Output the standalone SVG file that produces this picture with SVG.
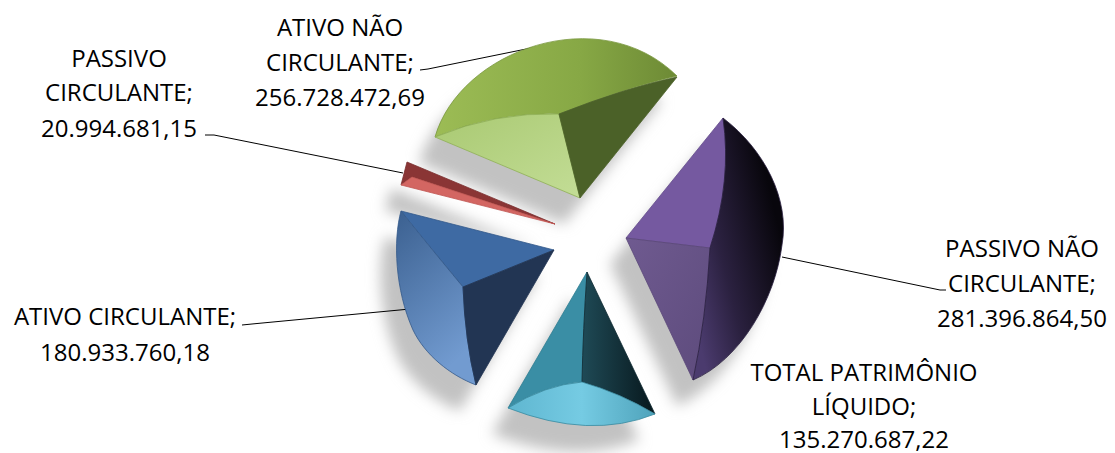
<svg xmlns="http://www.w3.org/2000/svg" width="1115" height="453" viewBox="0 0 1115 453">
<defs>
<filter id="blur" x="-30%" y="-30%" width="160%" height="160%"><feGaussianBlur stdDeviation="7"/></filter>
<linearGradient id="gTop" x1="0" y1="0" x2="1" y2="0"><stop offset="0" stop-color="#9cbc55"/><stop offset="0.6" stop-color="#87a845"/><stop offset="1" stop-color="#6d8a35"/></linearGradient>
<linearGradient id="gLeft" x1="0" y1="0" x2="1" y2="1"><stop offset="0" stop-color="#a9c972"/><stop offset="1" stop-color="#c3dd96"/></linearGradient>
<linearGradient id="bLeft" x1="0" y1="0" x2="0.4" y2="1"><stop offset="0" stop-color="#3b6090"/><stop offset="1" stop-color="#729bd0"/></linearGradient>
<linearGradient id="tRight" x1="1" y1="0.5" x2="0" y2="0.5"><stop offset="0" stop-color="#07171c"/><stop offset="1" stop-color="#1f4a56"/></linearGradient>
<linearGradient id="tBottom" x1="0" y1="0" x2="1" y2="0"><stop offset="0" stop-color="#5fb6d0"/><stop offset="0.5" stop-color="#75cbe3"/><stop offset="1" stop-color="#4fa3bb"/></linearGradient>
<linearGradient id="pRight" x1="0.9" y1="0.35" x2="0.1" y2="0.9"><stop offset="0" stop-color="#08060c"/><stop offset="0.6" stop-color="#2b2140"/><stop offset="1" stop-color="#4b3b6e"/></linearGradient>
<linearGradient id="pLow" x1="0" y1="0" x2="1" y2="1"><stop offset="0" stop-color="#6f5a90"/><stop offset="1" stop-color="#5d4b7c"/></linearGradient>
</defs>
<style>
.lbl{font-family:"Open Sans","Liberation Sans",sans-serif;font-size:24px;fill:#000;text-anchor:middle}
.lead{fill:none;stroke:#000;stroke-width:1}
.face{stroke-width:0.8;stroke-linejoin:round}
</style>
<rect width="1115" height="453" fill="#fff"/>
<g id="shadows" filter="url(#blur)" fill="#c2c2c2" transform="translate(-16,26)">
<path d="M435,137 C460,50 600,0 677,76 L580,198 Z"/>
<path d="M407,162 L555,224 L401,185 Z"/>
<path d="M401,211 L554,250 L476,385 C450,375 425,355 413,330 C395,290 393,240 401,211 Z"/>
<path d="M587,272 L655,414 Q590,440 508,408 Z"/>
<path d="M723,118 C765,150 790,200 782,245 C775,300 740,360 693,380 L626,238 Z"/>
</g>
<g id="connectors">
<polyline class="lead" points="420,70 428,69 541,46"/>
<polyline class="lead" points="205,135 214,135 403,173"/>
<polyline class="lead" points="242,325 252,324 410,309"/>
<polyline class="lead" points="782,257 940,290 946,290"/>
</g>
<g id="ativo-nao-circulante">
<path class="face" fill="url(#gTop)" stroke="#7a9840" d="M435,137 C460,50 600,0 677,76 Q625,88 559,114 Q495,112 435,137 Z"/>
<path class="face" fill="url(#gLeft)" stroke="#8fb055" d="M435,137 Q495,112 559,114 L580,198 Z"/>
<path class="face" fill="#4b6128" stroke="#4b6128" d="M559,114 Q625,88 677,77 L580,198 Z"/>
<text class="lbl"><tspan x="340" y="36">ATIVO NÃO</tspan><tspan x="340" y="71">CIRCULANTE;</tspan><tspan x="340" y="106">256.728.472,69</tspan></text>
</g>
<g id="passivo-circulante">
<path class="face" fill="#8a3535" stroke="#7a2e2e" d="M407,162 L555,224 L412,177 L401,185 Z"/>
<path class="face" fill="#d36662" stroke="#c05652" d="M412,177 L555,224 L401,185 Z"/>
<text class="lbl"><tspan x="119" y="67">PASSIVO</tspan><tspan x="119" y="101">CIRCULANTE;</tspan><tspan x="119" y="137">20.994.681,15</tspan></text>
</g>
<g id="ativo-circulante">
<path class="face" fill="#3e6aa3" stroke="#34598a" d="M401,211 L554,250 L463,287 Q420,235 401,211 Z"/>
<path class="face" fill="url(#bLeft)" stroke="#34598a" d="M401,211 Q420,235 463,287 Q465,340 476,385 C450,375 425,355 413,330 C395,290 393,240 401,211 Z"/>
<path class="face" fill="#223553" stroke="#223553" d="M554,250 L463,287 Q465,340 476,385 Z"/>
<text class="lbl"><tspan x="125" y="325">ATIVO CIRCULANTE;</tspan><tspan x="125" y="361">180.933.760,18</tspan></text>
</g>
<g id="total-patrimonio-liquido">
<path class="face" fill="#3a8ea5" stroke="#2f7d92" d="M587,272 L508,408 Q545,385 582,382 Q583,330 587,272 Z"/>
<path class="face" fill="url(#tRight)" stroke="#0f2a32" d="M587,272 L655,414 Q620,393 582,382 Q583,330 587,272 Z"/>
<path class="face" fill="url(#tBottom)" stroke="#3a8aa0" d="M508,408 Q545,385 582,382 Q620,393 655,414 Q590,440 508,408 Z"/>
<text class="lbl"><tspan x="864" y="381">TOTAL PATRIMÔNIO</tspan><tspan x="864" y="415">LÍQUIDO;</tspan><tspan x="864" y="448">135.270.687,22</tspan></text>
</g>
<g id="passivo-nao-circulante">
<path class="face" fill="#7559a0" stroke="#654c8c" d="M723,118 L626,238 L710,248 Q732,180 723,118 Z"/>
<path class="face" fill="url(#pLow)" stroke="#5a4878" d="M626,238 L693,380 Q706,320 710,248 Z"/>
<path class="face" fill="url(#pRight)" stroke="#2a2040" d="M723,118 C765,150 790,200 782,245 C775,300 740,360 693,380 Q706,320 710,248 Q732,180 723,118 Z"/>
<text class="lbl"><tspan x="1022" y="257">PASSIVO NÃO</tspan><tspan x="1022" y="292">CIRCULANTE;</tspan><tspan x="1022" y="327">281.396.864,50</tspan></text>
</g>
</svg>
